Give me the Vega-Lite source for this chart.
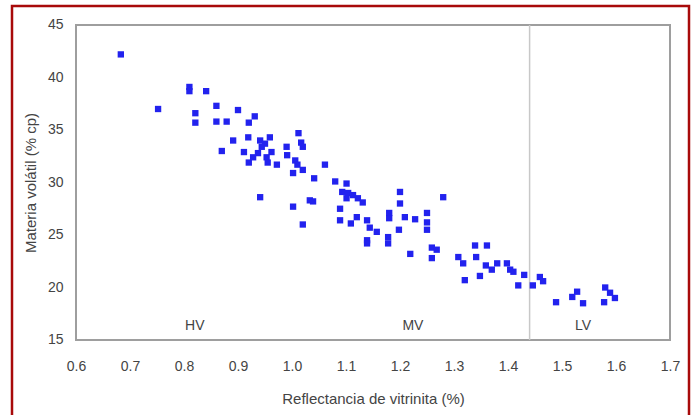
{
  "$schema": "https://vega.github.io/schema/vega-lite/v6.json",
  "autosize": {"type": "none"},
  "padding": {"left": 12, "top": 6, "right": 6, "bottom": 0},
  "width": 677,
  "height": 412,
  "background": "white",
  "config": {
    "view": {"stroke": "#a80a0a", "strokeWidth": 2.5},
    "font": "Liberation Sans"
  },
  "encoding": {
    "x": {
      "field": "x", "type": "quantitative",
      "scale": {"domain": [0.48148, 1.73519], "nice": false, "zero": false},
      "axis": {
        "values": [0.6, 0.7, 0.8, 0.9, 1.0, 1.1, 1.2, 1.3, 1.4, 1.5, 1.6, 1.7],
        "format": ".1f", "offset": -78, "domain": false, "ticks": false, "grid": false,
        "labelPadding": 19, "labelFontSize": 14, "labelColor": "#444",
        "title": "Reflectancia de vitrinita (%)", "titleFontSize": 15, "titleFontWeight": "normal",
        "titleColor": "#444", "titleX": 361, "titleY": 58, "titleBaseline": "middle", "titleAlign": "center"
      }
    },
    "y": {
      "field": "y", "type": "quantitative",
      "scale": {"domain": [7.5714, 46.8095], "nice": false, "zero": false},
      "axis": {
        "values": [15, 20, 25, 30, 35, 40, 45],
        "offset": -64, "domain": false, "ticks": false, "grid": false,
        "labelPadding": 13, "labelFontSize": 14, "labelColor": "#444",
        "title": "Materia volátil (% cp)", "titleFontSize": 15, "titleFontWeight": "normal",
        "titleColor": "#444", "titleX": -46, "titleY": 176.5, "titleBaseline": "middle", "titleAlign": "center", "titleAngle": -90
      }
    }
  },
  "layer": [
    {
      "data": {"values": [{"x": 0.6, "x2": 1.7, "y": 15, "y2": 45}]},
      "mark": {"type": "rect", "fill": null, "fillOpacity": 0, "stroke": "#9e9e9e", "strokeWidth": 2},
      "encoding": {"x2": {"field": "x2"}, "y2": {"field": "y2"}}
    },
    {
      "data": {"values": [{"x": 1.44, "y": 15, "y2": 45}]},
      "mark": {"type": "rule", "stroke": "#c8c8c8", "strokeWidth": 1.5},
      "encoding": {"y2": {"field": "y2"}}
    },
    {
      "data": {"values": [
        {"x": 0.683, "y": 42.2}, {"x": 0.752, "y": 37.0}, {"x": 0.81, "y": 39.1}, {"x": 0.81, "y": 38.7},
        {"x": 0.841, "y": 38.7}, {"x": 0.86, "y": 37.3}, {"x": 0.821, "y": 36.6}, {"x": 0.821, "y": 35.7},
        {"x": 0.86, "y": 35.8}, {"x": 0.879, "y": 35.8}, {"x": 0.87, "y": 33.0}, {"x": 0.9, "y": 36.9},
        {"x": 0.931, "y": 36.3}, {"x": 0.92, "y": 35.7}, {"x": 0.891, "y": 34.0}, {"x": 0.911, "y": 32.9},
        {"x": 0.919, "y": 34.3}, {"x": 0.92, "y": 31.9}, {"x": 0.941, "y": 34.0}, {"x": 0.95, "y": 33.7},
        {"x": 0.959, "y": 34.3}, {"x": 0.944, "y": 33.4}, {"x": 0.937, "y": 32.8}, {"x": 0.928, "y": 32.4},
        {"x": 0.953, "y": 32.4}, {"x": 0.962, "y": 32.9}, {"x": 0.972, "y": 31.7}, {"x": 0.955, "y": 31.9},
        {"x": 0.99, "y": 33.4}, {"x": 1.012, "y": 34.7}, {"x": 1.017, "y": 33.8}, {"x": 1.02, "y": 33.4},
        {"x": 0.991, "y": 32.6}, {"x": 1.006, "y": 32.1}, {"x": 1.01, "y": 31.7}, {"x": 1.002, "y": 30.9},
        {"x": 1.02, "y": 31.2}, {"x": 1.041, "y": 30.4}, {"x": 1.061, "y": 31.7}, {"x": 1.08, "y": 30.1},
        {"x": 0.941, "y": 28.6}, {"x": 1.002, "y": 27.7}, {"x": 1.02, "y": 26.0}, {"x": 1.033, "y": 28.3},
        {"x": 1.039, "y": 28.2}, {"x": 1.101, "y": 29.9}, {"x": 1.093, "y": 29.1}, {"x": 1.104, "y": 29.0},
        {"x": 1.113, "y": 28.8}, {"x": 1.122, "y": 28.5}, {"x": 1.131, "y": 28.1}, {"x": 1.101, "y": 28.5},
        {"x": 1.089, "y": 27.5}, {"x": 1.089, "y": 26.4}, {"x": 1.109, "y": 26.1}, {"x": 1.12, "y": 26.7},
        {"x": 1.139, "y": 26.4}, {"x": 1.144, "y": 25.7}, {"x": 1.157, "y": 25.3}, {"x": 1.139, "y": 24.5},
        {"x": 1.139, "y": 24.2}, {"x": 1.178, "y": 24.8}, {"x": 1.178, "y": 24.2}, {"x": 1.18, "y": 27.1},
        {"x": 1.18, "y": 26.6}, {"x": 1.2, "y": 29.1}, {"x": 1.2, "y": 28.0}, {"x": 1.209, "y": 26.7},
        {"x": 1.228, "y": 26.5}, {"x": 1.198, "y": 25.5}, {"x": 1.219, "y": 23.2}, {"x": 1.28, "y": 28.6},
        {"x": 1.25, "y": 27.1}, {"x": 1.25, "y": 26.2}, {"x": 1.25, "y": 25.5}, {"x": 1.259, "y": 23.8},
        {"x": 1.268, "y": 23.6}, {"x": 1.259, "y": 22.8}, {"x": 1.308, "y": 22.9}, {"x": 1.317, "y": 22.3},
        {"x": 1.32, "y": 20.7}, {"x": 1.339, "y": 24.0}, {"x": 1.361, "y": 24.0}, {"x": 1.341, "y": 22.9},
        {"x": 1.348, "y": 21.1}, {"x": 1.359, "y": 22.1}, {"x": 1.37, "y": 21.7}, {"x": 1.38, "y": 22.3},
        {"x": 1.398, "y": 22.3}, {"x": 1.404, "y": 21.7}, {"x": 1.41, "y": 21.5}, {"x": 1.43, "y": 21.2},
        {"x": 1.419, "y": 20.2}, {"x": 1.459, "y": 21.0}, {"x": 1.465, "y": 20.6}, {"x": 1.446, "y": 20.2},
        {"x": 1.489, "y": 18.6}, {"x": 1.528, "y": 19.6}, {"x": 1.519, "y": 19.1}, {"x": 1.539, "y": 18.5},
        {"x": 1.58, "y": 20.0}, {"x": 1.589, "y": 19.5}, {"x": 1.598, "y": 19.0}, {"x": 1.578, "y": 18.6}
      ]},
      "mark": {"type": "point", "shape": "square", "filled": true, "size": 40, "color": "#2222ee", "opacity": 1}
    },
    {
      "data": {"values": [
        {"x": 0.82, "y": 16.3, "label": "HV"},
        {"x": 1.224, "y": 16.3, "label": "MV"},
        {"x": 1.539, "y": 16.3, "label": "LV"}
      ]},
      "mark": {"type": "text", "fontSize": 14, "color": "#444", "baseline": "middle", "align": "center"},
      "encoding": {"text": {"field": "label"}}
    }
  ]
}
